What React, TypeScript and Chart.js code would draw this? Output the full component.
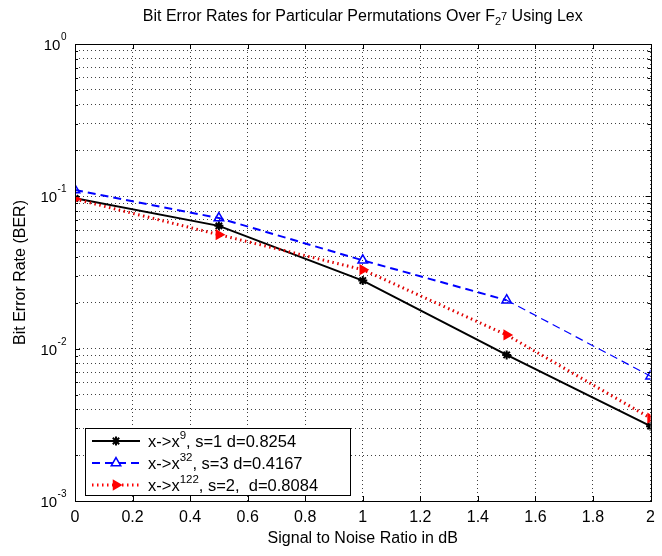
import React, { useEffect, useRef } from 'react';
import { Chart, registerables } from 'chart.js';

Chart.register(...registerables);

const snrDb = [0, 0.5, 1, 1.5, 2];
const berX9 = [0.097, 0.064, 0.028, 0.0091, 0.0031];
const berX32 = [0.11, 0.072, 0.038, 0.0208, 0.0066];
const berX122 = [0.096, 0.056, 0.033, 0.0123, 0.0035];

const xTickValues = [0, 0.2, 0.4, 0.6, 0.8, 1, 1.2, 1.4, 1.6, 1.8, 2];
const yDecadeExponents = [-3, -2, -1, 0];
const yMantissas = [1, 2, 3, 4, 5, 6, 7, 8, 9];

const legendBases = ['x->x', 'x->x', 'x->x'];
const legendPowers = ['9', '32', '122'];
const legendTails = [', s=1 d=0.8254', ', s=3 d=0.4167', ', s=2,  d=0.8084'];

const titleMain = 'Bit Error Rates for Particular Permutations Over F';
const titleSub = '2';
const titleSup = '7';
const titleEnd = ' Using Lex';
const xTitle = 'Signal to Noise Ratio in dB';
const yTitle = 'Bit Error Rate (BER)';

const FONT = '"Liberation Sans", Arial, Helvetica, sans-serif';

function yTickList(): number[] {
  const out: number[] = [];
  for (let i = 0; i < yDecadeExponents.length - 1; i++) {
    for (const m of yMantissas) out.push(Number((m * Math.pow(10, yDecadeExponents[i])).toPrecision(6)));
  }
  out.push(Math.pow(10, yDecadeExponents[yDecadeExponents.length - 1]));
  return out;
}

function drawMarker(ctx: CanvasRenderingContext2D, kind: string, x: number, y: number) {
  ctx.save();
  ctx.setLineDash([]);
  if (kind === 'star') {
    ctx.strokeStyle = '#000';
    ctx.lineWidth = 2;
    const r = 4.5;
    ctx.beginPath();
    ctx.moveTo(x - r, y); ctx.lineTo(x + r, y);
    ctx.moveTo(x, y - r); ctx.lineTo(x, y + r);
    const d = r * 0.707;
    ctx.moveTo(x - d, y - d); ctx.lineTo(x + d, y + d);
    ctx.moveTo(x - d, y + d); ctx.lineTo(x + d, y - d);
    ctx.stroke();
  } else if (kind === 'tri') {
    ctx.strokeStyle = '#0000ff';
    ctx.lineWidth = 1.5;
    const r = 5.5;
    ctx.beginPath();
    ctx.moveTo(x, y - r);
    ctx.lineTo(x + r * 0.866, y + r * 0.5);
    ctx.lineTo(x - r * 0.866, y + r * 0.5);
    ctx.closePath();
    ctx.fillStyle = '#fff';
    ctx.fill();
    ctx.stroke();
  } else {
    ctx.fillStyle = '#ff0000';
    const r = 6.5;
    ctx.beginPath();
    ctx.moveTo(x + r, y);
    ctx.lineTo(x - r * 0.5, y - r * 0.866);
    ctx.lineTo(x - r * 0.5, y + r * 0.866);
    ctx.closePath();
    ctx.fill();
  }
  ctx.restore();
}

const framePlugin = {
  id: 'matlabFrame',
  afterDraw(chart: any) {
    const { ctx, chartArea } = chart;
    const { left, right, top, bottom } = chartArea;
    const xs = chart.scales.x;
    const ys = chart.scales.y;
    ctx.save();
    ctx.setLineDash([]);
    ctx.strokeStyle = '#000';
    ctx.lineWidth = 1;
    ctx.strokeRect(Math.round(left) + 0.5, Math.round(top) + 0.5, Math.round(right - left), Math.round(bottom - top));

    // inside ticks
    ctx.beginPath();
    for (const v of xTickValues) {
      const px = Math.round(xs.getPixelForValue(v)) + 0.5;
      ctx.moveTo(px, bottom); ctx.lineTo(px, bottom - 5);
      ctx.moveTo(px, top); ctx.lineTo(px, top + 5);
    }
    for (const v of yTickList()) {
      const py = Math.round(ys.getPixelForValue(v)) + 0.5;
      const isMajor = Math.abs(Math.log10(v) - Math.round(Math.log10(v))) < 1e-9;
      const len = isMajor ? 5 : 3;
      ctx.moveTo(left, py); ctx.lineTo(left + len, py);
      ctx.moveTo(right, py); ctx.lineTo(right - len, py);
    }
    ctx.stroke();

    // y tick labels with superscript exponents
    ctx.fillStyle = '#000';
    ctx.textBaseline = 'alphabetic';
    for (const e of yDecadeExponents) {
      const py = ys.getPixelForValue(Math.pow(10, e));
      ctx.font = '15px ' + FONT;
      const baseW = ctx.measureText('10').width;
      ctx.font = '10px ' + FONT;
      const expTxt = e === 0 ? '0' : '-' + String(-e);
      const expW = ctx.measureText(expTxt).width;
      const xEnd = left - 9;
      const x0 = xEnd - baseW - expW;
      ctx.font = '15px ' + FONT;
      ctx.textAlign = 'left';
      ctx.fillText('10', x0, py + 6);
      ctx.font = '10px ' + FONT;
      ctx.fillText(expTxt, x0 + baseW + 0.5, py - 4);
    }

    // title
    const tBaseline = 21;
    ctx.font = '16px ' + FONT;
    const w1 = ctx.measureText(titleMain).width;
    const w4 = ctx.measureText(titleEnd).width;
    ctx.font = '11px ' + FONT;
    const w2 = ctx.measureText(titleSub).width;
    const w3 = ctx.measureText(titleSup).width;
    const total = w1 + w2 + w3 + w4;
    let tx = (left + right) / 2 - total / 2;
    ctx.textAlign = 'left';
    ctx.font = '16px ' + FONT;
    ctx.fillText(titleMain, tx, tBaseline);
    tx += w1;
    ctx.font = '11px ' + FONT;
    ctx.fillText(titleSub, tx, tBaseline + 4);
    tx += w2;
    ctx.fillText(titleSup, tx, tBaseline - 1);
    tx += w3;
    ctx.font = '16px ' + FONT;
    ctx.fillText(titleEnd, tx, tBaseline);

    // legend
    const bx = 85, by = 428, bw = 265, bh = 67;
    ctx.fillStyle = '#fff';
    ctx.fillRect(bx, by, bw, bh);
    ctx.strokeStyle = '#000';
    ctx.lineWidth = 1;
    ctx.strokeRect(bx + 0.5, by + 0.5, bw, bh);
    const rows = [by + 13, by + 35, by + 57];
    const styles = [
      { color: '#000', width: 2, dash: [] as number[], marker: 'star' },
      { color: '#0000ff', width: 2, dash: [8, 5], marker: 'tri' },
      { color: '#ff0000', width: 3, dash: [1.5, 3.5], marker: 'rtri' },
    ];
    for (let i = 0; i < 3; i++) {
      const ry = rows[i];
      const s = styles[i];
      ctx.save();
      ctx.strokeStyle = s.color;
      ctx.lineWidth = s.width;
      ctx.setLineDash(s.dash);
      ctx.beginPath();
      ctx.moveTo(92, ry); ctx.lineTo(140, ry);
      ctx.stroke();
      ctx.restore();
      drawMarker(ctx, s.marker, 116, ry);
      ctx.fillStyle = '#000';
      ctx.font = '16.5px ' + FONT;
      ctx.textAlign = 'left';
      let lx = 148;
      ctx.fillText(legendBases[i], lx, ry + 6);
      lx += ctx.measureText(legendBases[i]).width;
      ctx.font = '11.5px ' + FONT;
      ctx.fillText(legendPowers[i], lx, ry - 2);
      lx += ctx.measureText(legendPowers[i]).width;
      ctx.font = '16.5px ' + FONT;
      ctx.fillText(legendTails[i], lx, ry + 6);
    }
    ctx.restore();
  },
};

export default function App() {
  const ref = useRef<HTMLCanvasElement | null>(null);
  useEffect(() => {
    document.body.style.margin = '0';
    const canvas = ref.current;
    if (!canvas) return;
    const gridColor = 'rgba(0,0,0,0.75)';
    const chart = new Chart(canvas, {
      type: 'line',
      data: {
        labels: snrDb,
        datasets: [
          {
            label: 'x->x^9',
            data: snrDb.map((x, i) => ({ x, y: berX9[i] })),
            borderColor: '#000',
            backgroundColor: '#000',
            borderWidth: 2,
            pointStyle: 'star',
            pointRadius: 4.5,
            pointBorderWidth: 2,
            pointBorderColor: '#000',
            order: 3,
          },
          {
            label: 'x->x^32',
            data: snrDb.map((x, i) => ({ x, y: berX32[i] })),
            borderColor: '#0000ff',
            backgroundColor: 'rgba(255,255,255,1)',
            borderWidth: 2,
            borderDash: [8, 5],
            segment: {
              borderWidth: (c: any) => (c.p0DataIndex === 3 ? 1.2 : 2),
            },
            pointStyle: 'triangle',
            pointRadius: 5.5,
            pointBorderWidth: 1.5,
            pointBorderColor: '#0000ff',
            pointBackgroundColor: 'rgba(255,255,255,0)',
            order: 2,
          },
          {
            label: 'x->x^122',
            data: snrDb.map((x, i) => ({ x, y: berX122[i] })),
            borderColor: '#e00000',
            backgroundColor: '#ff0000',
            borderWidth: 3,
            borderDash: [1.5, 3.5],
            pointStyle: 'triangle',
            rotation: 90,
            pointRadius: 6.5,
            pointBorderWidth: 0,
            pointBackgroundColor: '#ff0000',
            order: 1,
          },
        ],
      },
      options: {
        responsive: false,
        animation: false,
        devicePixelRatio: 1,
        layout: { padding: { top: 44, right: 7, bottom: 0, left: 0 } },
        plugins: {
          legend: { display: false },
          title: { display: false },
          tooltip: { enabled: false },
        },
        scales: {
          x: {
            type: 'linear',
            min: 0,
            max: 2,
            afterBuildTicks: (scale: any) => {
              scale.ticks = xTickValues.map((v) => ({ value: v }));
            },
            afterFit: (scale: any) => {
              scale.height = 55;
            },
            ticks: {
              autoSkip: false,
              maxRotation: 0,
              color: '#000',
              padding: 7,
              font: { family: FONT, size: 16 },
              callback: (v: any) => String(Number(Number(v).toFixed(1))),
            },
            grid: {
              color: gridColor,
              lineWidth: 1,
              drawTicks: false,
            },
            border: { display: false, dash: [1, 3] },
            title: {
              display: true,
              text: xTitle,
              color: '#000',
              font: { family: FONT, size: 16 },
              padding: { top: 0, bottom: 8 },
            },
          },
          y: {
            type: 'logarithmic',
            min: 1e-3,
            max: 1,
            afterBuildTicks: (scale: any) => {
              scale.ticks = yTickList().map((v) => ({ value: v }));
            },
            afterFit: (scale: any) => {
              scale.width = 75;
            },
            ticks: { display: false },
            grid: {
              color: gridColor,
              lineWidth: 1,
              drawTicks: false,
            },
            border: { display: false, dash: [1, 3] },
            title: {
              display: true,
              text: yTitle,
              color: '#000',
              font: { family: FONT, size: 16 },
              padding: { top: 11, bottom: 0 },
            },
          },
        },
      },
      plugins: [framePlugin],
    } as any);
    return () => chart.destroy();
  }, []);
  return <canvas ref={ref} width={662} height={556} style={{ display: 'block', width: 662, height: 556 }} />;
}
